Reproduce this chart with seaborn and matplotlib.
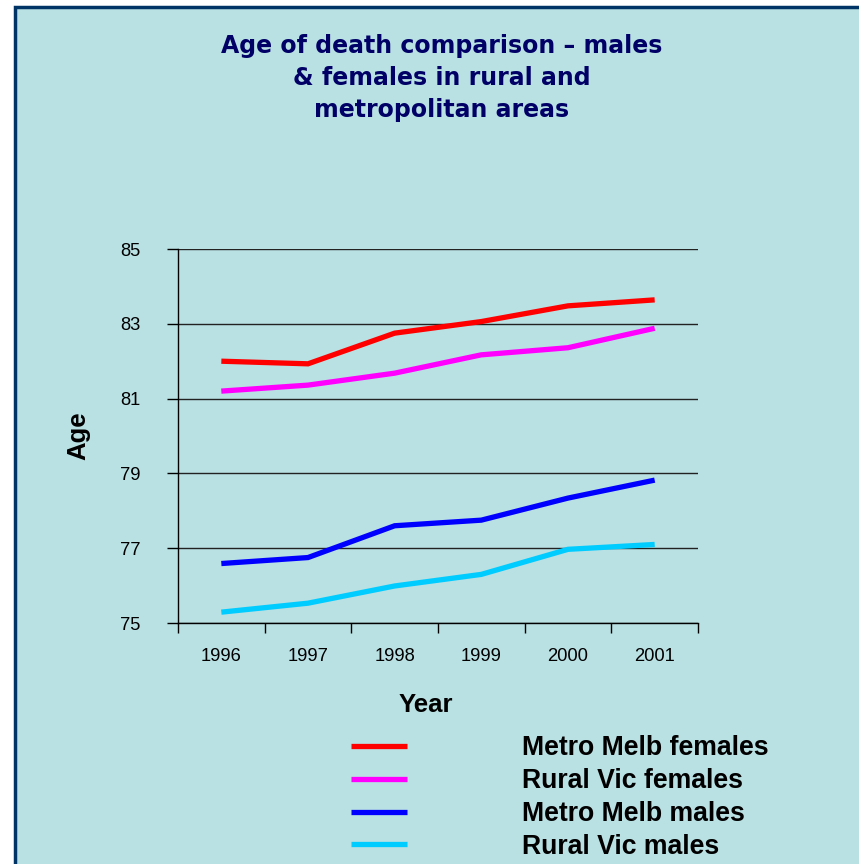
import matplotlib
matplotlib.use("Agg")
import matplotlib.pyplot as plt
from matplotlib.patches import Rectangle
import pandas as pd
import seaborn as sns

years = ["1996", "1997", "1998", "1999", "2000", "2001"]
metro_females = [82.0, 81.93, 82.75, 83.06, 83.48, 83.64]
rural_females = [81.2, 81.36, 81.68, 82.17, 82.36, 82.88]
metro_males = [76.59, 76.75, 77.6, 77.75, 78.34, 78.82]
rural_males = [75.29, 75.53, 75.99, 76.30, 76.97, 77.10]

series_names = ["Metro Melb females", "Rural Vic females",
                "Metro Melb males", "Rural Vic males"]
series_values = [metro_females, rural_females, metro_males, rural_males]
colors = ["#FF0000", "#FF00FF", "#0000FF", "#00CCFF"]

rows = []
for name, vals in zip(series_names, series_values):
    for i, (yr, v) in enumerate(zip(years, vals)):
        rows.append({"pos": i, "Year": yr, "Age": v, "Series": name})
df = pd.DataFrame(rows)

sns.set_theme(style="white")
plt.rcParams["font.family"] = ["Liberation Sans", "DejaVu Sans"]

W, H = 859, 864
fig = plt.figure(figsize=(W / 100, H / 100), dpi=100)
fig.patch.set_facecolor("white")

# light panel with a navy frame
frame = Rectangle((14.5 / W, -0.05), 1.2, 1 - 6.5 / H + 0.05,
                  transform=fig.transFigure, facecolor="#B9E0E3",
                  edgecolor="#003366", linewidth=2.5, zorder=-1)
fig.patches.append(frame)

ax = fig.add_axes([178 / W, 1 - 623 / H, (698 - 178) / W, (623 - 249) / H])
ax.set_zorder(2)
ax.set_facecolor("none")

sns.lineplot(data=df, x="pos", y="Age", hue="Series", palette=colors,
             hue_order=series_names, linewidth=3.8, ax=ax, legend=True,
             zorder=3)
for line in ax.get_lines():
    line.set_solid_capstyle("butt")
    line.set_solid_joinstyle("miter")

ax.set_xlim(-0.5, 5.5)
ax.set_ylim(75, 85)
ax.set_yticks([75, 77, 79, 81, 83, 85])
ax.yaxis.grid(True, color="#222222", linewidth=1.0)
ax.set_axisbelow(True)

# category axis: tick marks between categories, labels at centres
ax.set_xticks([i - 0.5 for i in range(len(years) + 1)])
ax.set_xticklabels([])
ax.set_xticks(range(len(years)), minor=True)
ax.set_xticklabels(years, minor=True)
ax.tick_params(axis="x", which="major", direction="out", length=7,
               width=1, color="black", bottom=True)
ax.tick_params(axis="x", which="minor", length=0, pad=18,
               labelsize=13.2, labelcolor="black")
ax.tick_params(axis="y", direction="out", length=8, width=1,
               color="black", left=True, labelsize=13.2, pad=19,
               labelcolor="black")

for side in ["top", "right"]:
    ax.spines[side].set_visible(False)
for side in ["left", "bottom"]:
    ax.spines[side].set_color("black")
    ax.spines[side].set_linewidth(1.0)

ax.set_xlabel("Year", fontsize=18.5, fontweight="bold", color="black",
              labelpad=20)
ax.xaxis.label.set_x((426 - 178) / (698 - 178))
ax.set_ylabel("Age", fontsize=18.5, fontweight="bold", color="black",
              labelpad=21)

handles, labels = ax.get_legend_handles_labels()
ax.legend_.remove()
leg = fig.legend(handles, labels, loc="upper left",
                 bbox_to_anchor=(327 / W, 1 - 711 / H),
                 frameon=False, handlelength=2.1,
                 handletextpad=4.33, labelspacing=0.26,
                 prop={"weight": "bold", "size": 19.2})
for t in leg.get_texts():
    t.set_color("black")
for h in leg.legend_handles:
    h.set_solid_capstyle("butt")

fig.text(442 / W, 1 - 78 / H,
         "Age of death comparison – males\n& females in rural and\nmetropolitan areas",
         ha="center", va="center", fontsize=17, fontweight="bold",
         color="#000066", family="DejaVu Sans", linespacing=1.42)

fig.savefig("out.png", dpi=100, facecolor=fig.get_facecolor())
